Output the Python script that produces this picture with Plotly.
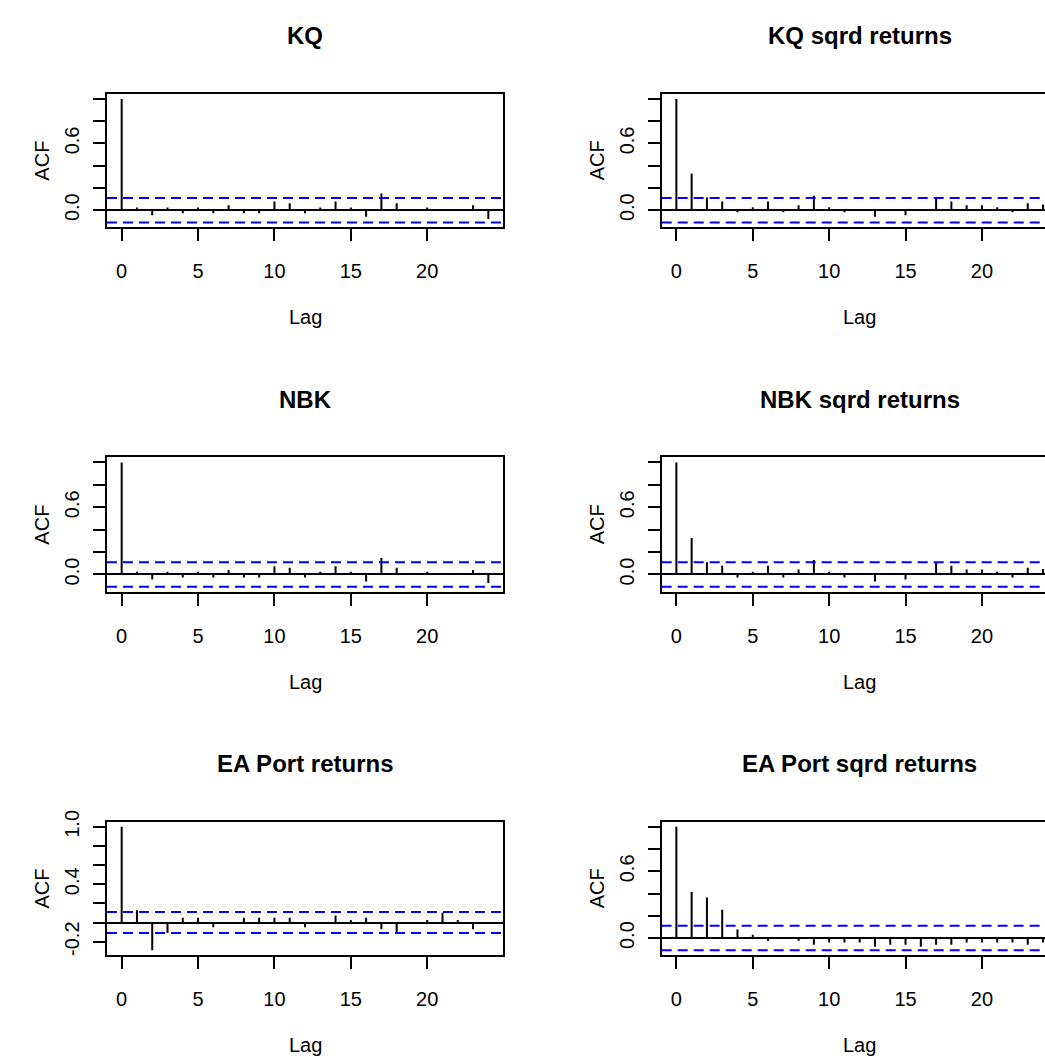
import plotly.graph_objects as go

# ---------------- data ----------------
lags = list(range(25))

kq = [1.0, 0.024, -0.045, 0.024, -0.027, 0.024, -0.027, 0.045, -0.027, -0.027,
      0.077, 0.062, -0.027, 0.024, 0.077, 0.024, -0.06, 0.15, 0.062, 0.004,
      0.024, -0.003, 0.002, 0.045, -0.08]
kq_sq = [1.0, 0.33, 0.113, 0.077, -0.02, 0.027, 0.077, -0.02, 0.045, 0.13,
         0.027, -0.02, 0.003, -0.06, 0.002, -0.045, 0.003, 0.107, 0.077, 0.045,
         0.045, 0.027, -0.02, 0.062, 0.05]
nbk = [1.0, 0.024, -0.045, 0.024, -0.027, 0.024, -0.027, 0.04, -0.027, -0.027,
       0.074, 0.06, -0.027, 0.024, 0.074, 0.024, -0.062, 0.148, 0.06, 0.004,
       0.024, -0.003, 0.002, 0.04, -0.077]
nbk_sq = [1.0, 0.326, 0.11, 0.077, -0.027, 0.024, 0.077, -0.027, 0.045, 0.13,
          0.024, -0.027, 0.003, -0.062, 0.002, -0.045, 0.003, 0.104, 0.077, 0.045,
          0.045, 0.024, -0.027, 0.06, 0.05]
ea = [1.0, 0.13, -0.29, -0.11, 0.05, 0.05, -0.05, 0.003, 0.05, 0.05,
      0.05, 0.05, -0.05, 0.002, 0.075, 0.027, 0.05, -0.07, -0.12, 0.003,
      0.027, 0.103, 0.027, -0.07, 0.002]
ea_sq = [1.0, 0.414, 0.364, 0.254, 0.077, 0.03, -0.024, 0.002, -0.024, -0.06,
         -0.04, -0.04, -0.04, -0.077, -0.06, -0.06, -0.077, -0.06, -0.06, -0.04,
         -0.04, -0.04, -0.04, -0.06, -0.04]

titles = ["KQ", "KQ sqrd returns", "NBK", "NBK sqrd returns",
          "EA Port returns", "EA Port sqrd returns"]
series = [kq, kq_sq, nbk, nbk_sq, ea, ea_sq]
conf_limit = 0.11

x_tickvals = [0, 5, 10, 15, 20]
y_tickvals_std = [0.0, 0.2, 0.4, 0.6, 0.8, 1.0]
y_ticktext_std = ["0.0", "", "", "0.6", "", ""]
y_tickvals_ea = [-0.2, 0.0, 0.2, 0.4, 0.6, 0.8, 1.0]
y_ticktext_ea = ["-0.2", "", "", "0.4", "", "", "1.0"]

# ---------------- layout geometry (pixels) ----------------
W, H = 1045, 1059
col_x = [(107, 503), (661.7, 1058)]          # plot box left/right in px
row_y = [(83, 218), (451, 587), (820, 955)]  # plot box top/bottom in px

FONT = "Liberation Sans, Arial, sans-serif"
AX_FS = 20
TITLE_FS = 24

fig = go.Figure()
annotations = []
shapes = []

xr_left = (-0.96, 24.96)
px_per_lag = (col_x[0][1] - col_x[0][0]) / (xr_left[1] - xr_left[0])

for i, (title, vals) in enumerate(zip(titles, series)):
    r, c = divmod(i, 2)
    n = i + 1
    xa = "x" if n == 1 else f"x{n}"
    ya = "y" if n == 1 else f"y{n}"
    xl, xrpx = col_x[c]
    yt, yb = row_y[r]
    xright_px = min(xrpx, W)
    xrange = [xr_left[0], xr_left[0] + (xright_px - xl) / px_per_lag]

    lo = min(min(vals), -conf_limit)
    hi = max(max(vals), conf_limit)
    pad = 0.04 * (hi - lo)
    yrange = [lo - pad, hi + pad]

    # vertical ACF spikes
    sx, sy = [], []
    for l, v in zip(lags, vals):
        sx += [l, l, None]
        sy += [0, v, None]
    fig.add_trace(go.Scatter(x=sx, y=sy, mode="lines",
                             line=dict(color="black", width=2),
                             xaxis=xa, yaxis=ya, showlegend=False,
                             hoverinfo="skip"))

    is_ea = (title == "EA Port returns")
    dom_x = [xl / W, min(xrpx, W) / W]
    dom_y = [1 - yb / H, 1 - yt / H]
    fig.layout[("xaxis" if n == 1 else f"xaxis{n}")] = dict(
        domain=dom_x, range=xrange, anchor=ya,
        tickvals=x_tickvals, ticks="outside", ticklen=12, tickwidth=2,
        tickcolor="black", showline=True, linecolor="black", linewidth=2,
        mirror=True, showgrid=False, zeroline=False,
        tickfont=dict(family=FONT, size=AX_FS, color="black"),
        ticklabelstandoff=13,
    )
    fig.layout[("yaxis" if n == 1 else f"yaxis{n}")] = dict(
        domain=dom_y, range=yrange, anchor=xa,
        tickvals=y_tickvals_ea if is_ea else y_tickvals_std,
        ticktext=y_ticktext_ea if is_ea else y_ticktext_std,
        tickangle=-90,
        ticks="outside", ticklen=12, tickwidth=2, tickcolor="black",
        showline=True, linecolor="black", linewidth=2,
        mirror=(c == 0), showgrid=False,
        zeroline=True, zerolinecolor="black", zerolinewidth=2,
        tickfont=dict(family=FONT, size=AX_FS, color="black"),
        ticklabelstandoff=6,
    )

    # confidence bounds
    for s in (conf_limit, -conf_limit):
        shapes.append(dict(type="line", xref=f"{xa} domain", yref=ya,
                           x0=0, x1=1, y0=s, y1=s,
                           line=dict(color="#0000FF", width=2, dash="10px,6px")))

    # titles and axis labels
    cx = (xl + xrpx) / 2 / W
    annotations.append(dict(text=f"<b>{title}</b>", x=cx, y=1 - (yt - 59) / H,
                            xref="paper", yref="paper", showarrow=False,
                            xanchor="center", yanchor="middle",
                            font=dict(family=FONT, size=TITLE_FS, color="black")))
    annotations.append(dict(text="Lag", x=cx, y=1 - (yb + 91) / H,
                            xref="paper", yref="paper", showarrow=False,
                            xanchor="center", yanchor="middle",
                            font=dict(family=FONT, size=AX_FS, color="black")))
    annotations.append(dict(text="ACF", x=(xl - 65) / W, y=1 - (yt + yb) / 2 / H,
                            xref="paper", yref="paper", showarrow=False,
                            textangle=-90, xanchor="center", yanchor="middle",
                            font=dict(family=FONT, size=AX_FS, color="black")))

fig.update_layout(
    width=W, height=H, autosize=False,
    margin=dict(l=0, r=0, t=0, b=0),
    paper_bgcolor="white", plot_bgcolor="white",
    annotations=annotations, shapes=shapes,
    showlegend=False,
)

fig.write_html(
    "out.html",
    config={"displayModeBar": False},
    post_script="document.body.style.margin='0';document.body.style.overflow='hidden';",
)
